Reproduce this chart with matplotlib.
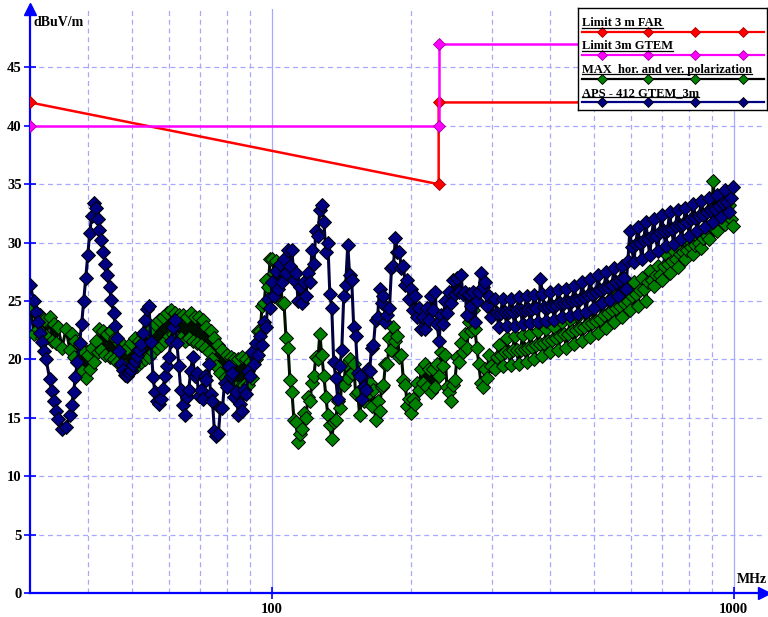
"""Radiated emission scan of the APS-412 in the GTEM cell against the 3 m limit lines."""

import numpy as np
import matplotlib

matplotlib.use("Agg")

import matplotlib.pyplot as plt
from matplotlib.ticker import FixedLocator, NullFormatter


# sweep frequencies (MHz)
FREQ_MHZ = [
    30.0, 30.6, 30.9, 31.2, 31.5, 31.8, 32.1, 32.5, 33.1, 33.4,
    33.8, 34.1, 34.5, 35.2, 35.9, 36.6, 36.9, 37.3, 37.6, 38.0,
    38.4, 38.8, 39.2, 39.6, 40.0, 40.4, 40.8, 41.2, 41.6, 42.0,
    42.4, 42.8, 43.2, 43.7, 44.1, 44.6, 45.0, 45.5, 45.9, 46.4,
    46.8, 47.3,
    47.75, 48.2, 48.7, 49.2, 49.7, 50.2, 50.7, 51.2, 51.7, 52.2,
    52.7, 53.2, 53.7, 54.3, 54.8, 55.4, 55.9, 56.5, 57.0, 57.6,
    58.2, 58.8, 59.4, 60.0, 60.6, 61.2, 61.8, 62.4, 63.0, 63.6,
    64.2, 64.9, 65.5, 66.2, 66.8, 67.5, 68.2, 68.9, 69.5, 70.2,
    70.9, 71.6, 72.3, 73.1, 73.8, 74.5, 75.2, 76.0, 76.7, 77.5,
    78.3, 79.1, 79.9, 80.7, 81.5, 82.3, 83.1, 83.9, 84.7, 85.6,
    86.4, 87.3, 88.2, 89.1, 89.9, 90.8, 91.7, 92.7, 93.6, 94.5,
    95.4, 96.4, 97.3, 98.3, 99.3,
    100.3, 101.3, 102.3, 103.3, 104.4, 105.4, 106.4, 107.5, 108.6, 109.6,
    110.7, 111.8, 113.0, 114.1, 115.2, 116.3, 117.5, 118.7, 119.9, 121.1,
    122.3, 123.5, 124.7, 126.0, 127.2, 128.4, 129.8, 131.1, 132.4, 133.7,
    135.0, 136.3, 137.7, 139.1, 140.5, 141.9, 143.3, 144.7, 146.2, 147.6,
    149.1, 150.6, 152.1, 153.6, 155.1, 156.6, 158.2, 159.8, 161.4, 163.0,
    164.6, 166.2, 167.9, 169.6, 171.3, 173.0, 174.7, 176.4, 178.2, 180.0,
    181.8, 183.6, 185.4, 187.2, 189.1, 191.0, 192.9, 194.8, 196.8, 198.7,
    200.7, 202.7, 204.7, 206.7, 208.8, 210.9, 213.0, 215.1, 217.2, 219.4,
    221.6, 223.8, 226.0, 228.2, 230.5, 232.8, 235.1, 237.4, 239.8, 242.2,
    244.6, 247.0, 249.5, 252.0, 254.5, 257.0, 259.6, 262.2, 264.8, 267.4,
    270.1, 272.8, 275.5, 278.2, 281.0, 283.8, 286.6, 289.5, 292.4, 295.3,
    298.2,
    304.2, 307.2, 310.3, 313.4, 316.5, 319.6, 322.8, 326.0, 329.3, 332.5,
    335.8, 339.2, 342.6, 346.0, 349.4, 352.9, 356.4, 359.9, 363.5, 367.1,
    370.8, 374.5, 378.2, 382.0, 385.8, 389.6, 393.5, 397.4, 401.4, 405.4,
    409.4, 413.5, 417.6, 421.7, 425.9, 430.1, 434.4, 438.7, 443.1, 447.5,
    452.0, 456.5, 461.0, 465.6, 470.3, 475.0, 479.7, 484.4, 489.2, 494.1,
    499.0, 504.0, 509.0, 514.1, 519.2, 524.4, 529.6, 534.9, 540.2, 545.6,
    551.0, 556.5, 562.0, 567.6, 573.2, 578.9, 584.7, 590.5, 596.4, 602.3,
    608.3, 614.4, 620.5, 626.7, 632.9, 639.2, 645.6, 652.0, 658.5, 665.0,
    671.6, 678.3, 685.1, 691.9, 698.8, 705.8, 712.8, 719.9, 727.0, 734.3,
    741.6, 749.0, 756.4, 764.0, 771.5, 779.2, 787.0, 794.8, 802.7, 810.7,
    818.8, 826.9, 835.1, 843.4, 851.8, 860.3, 868.9, 877.6, 886.3, 895.1,
    904.0, 913.0, 922.1, 931.3, 940.5, 949.9, 959.3, 968.9, 978.5, 988.3,
    998.1,
]

# APS - 412 GTEM_3m (dBuV/m)
APS_DB = [
    26.4, 25.0, 24.1, 23.2, 22.3, 21.5, 20.7, 20.0, 18.3, 17.3,
    16.4, 15.6, 14.9, 14.0, 14.2, 15.2, 16.1, 17.2, 18.5, 19.8,
    21.4, 23.0, 25.0, 27.0, 28.9, 30.8, 32.3, 33.4, 33.0, 32.0,
    31.1, 30.2, 29.2, 28.2, 27.2, 26.2, 25.1, 24.0, 22.9, 21.8,
    20.7, 19.6,
    19.1, 18.7, 18.6, 18.8, 19.1, 19.5, 19.9, 20.3, 20.8, 21.3,
    22.3, 23.4, 24.3, 24.6, 21.5, 18.5, 17.2, 16.4, 16.2, 16.6,
    17.5, 18.6, 19.4, 20.2, 21.6, 22.8, 23.4, 21.4, 19.4, 17.4,
    16.1, 15.2, 16.8, 17.4, 19.0, 20.2, 18.6, 18.8, 16.9, 17.4,
    16.6, 18.6, 18.2, 19.6, 17.0, 16.4, 13.9, 13.4, 13.6, 15.8,
    15.8, 18.0, 17.6, 19.4, 18.6, 18.8, 16.8, 17.2, 15.2, 16.2,
    15.6, 17.4, 17.0, 19.0, 18.6, 20.6, 19.6, 21.4, 20.4, 22.0,
    21.2, 23.2, 22.8, 25.2, 24.4,
    26.6, 25.4, 27.6, 26.0, 28.2, 26.6, 28.6, 27.4, 29.4, 28.0,
    29.4, 26.8, 27.4, 25.0, 26.2, 24.8, 26.6, 25.4, 27.4, 26.6,
    29.4, 28.2, 31.0, 30.6, 32.8, 33.2, 31.8, 29.2, 30.0, 25.6,
    24.4, 19.8, 18.4, 16.6, 19.4, 20.8, 25.4, 26.4, 29.8, 27.2,
    26.8, 22.8, 22.0, 18.8, 18.6, 16.6, 17.6, 17.4, 19.2, 19.0,
    21.0, 21.2, 23.4, 23.6, 26.0, 24.8, 25.4, 23.2, 23.8, 24.4,
    27.8, 28.0, 30.4, 29.2, 29.2, 27.8, 28.0, 26.4, 26.8, 25.2,
    26.0, 24.2, 25.4, 23.6, 24.4, 22.6, 23.6, 22.6, 24.4, 23.4,
    25.4, 24.2, 25.8, 23.0, 21.6, 23.8, 23.0, 25.0, 24.0, 25.8,
    24.8, 26.8, 25.6, 27.0, 25.8, 27.2, 25.6, 25.8, 23.8, 25.6,
    24.6, 25.8, 23.2, 25.0, 25.8, 27.4, 26.2, 26.6, 24.6, 25.4,
    23.6,
    25.2, 24.0, 22.8, 24.0, 25.2, 24.1, 22.9, 24.1, 25.2, 24.1,
    22.9, 24.2, 25.3, 24.2, 23.0, 24.2, 25.4, 24.3, 23.1, 24.3,
    25.5, 24.4, 23.2, 26.9, 25.6, 24.5, 23.3, 24.5, 25.8, 24.6,
    23.4, 24.7, 25.9, 24.8, 23.6, 24.8, 26.0, 24.9, 23.7, 25.0,
    26.3, 25.1, 23.9, 25.2, 26.6, 25.3, 24.1, 25.5, 26.9, 25.6,
    24.4, 25.8, 27.2, 25.9, 24.8, 26.1, 27.5, 26.2, 25.1, 26.4,
    27.8, 26.6, 25.4, 26.8, 28.0, 27.0, 26.0, 28.4, 31.0, 29.6,
    28.3, 29.9, 31.3, 30.0, 28.6, 30.2, 31.8, 30.3, 28.9, 30.6,
    32.0, 30.6, 29.3, 30.9, 32.4, 31.0, 29.7, 31.1, 32.6, 31.2,
    29.9, 31.4, 32.8, 31.5, 30.3, 31.6, 33.0, 31.8, 30.6, 32.0,
    33.3, 32.1, 31.0, 32.3, 33.6, 32.4, 31.3, 32.6, 33.8, 32.8,
    31.8, 32.9, 34.1, 33.1, 32.2, 33.4, 34.5, 33.5, 32.6, 33.8,
    34.8,
]

# MAX hor. and ver. polarization (dBuV/m)
MAX_DB = [
    24.6, 22.2, 24.0, 22.6, 23.8, 21.8, 23.4, 22.0, 23.6, 21.6,
    23.0, 21.4, 22.8, 21.0, 22.6, 20.8, 22.2, 20.2, 21.6, 19.8,
    21.2, 19.0, 20.6, 18.4, 20.4, 19.2, 21.0, 19.8, 21.6, 20.6,
    22.6, 20.8, 22.4, 20.4, 22.2, 20.2, 22.4, 20.0, 21.8, 19.8,
    21.4, 19.6,
    21.2, 19.4, 21.0, 19.4, 21.4, 19.6, 21.8, 19.4, 21.6, 19.8,
    22.2, 20.0, 22.4, 20.2, 22.6, 20.6, 23.0, 21.0, 23.4, 21.2,
    23.6, 21.6, 24.0, 22.0, 24.2, 22.2, 24.0, 21.8, 23.8, 21.8,
    23.8, 21.6, 23.6, 21.8, 24.0, 21.6, 23.6, 21.4, 23.6, 21.2,
    23.4, 21.0, 22.8, 20.6, 22.4, 20.0, 21.8, 19.4, 21.2, 18.8,
    20.8, 18.4, 20.4, 18.0, 20.2, 17.8, 20.0, 17.6, 20.0, 17.6,
    20.2, 17.8, 20.0, 17.8, 19.8, 18.4, 20.4, 20.0, 22.4, 22.4,
    24.6, 24.8, 26.8, 26.2, 28.6,
    28.6, 27.4, 28.4, 26.6, 27.6, 24.8, 24.8, 21.8, 21.0, 18.2,
    17.2, 14.8, 14.6, 12.9, 13.6, 14.0, 15.4, 15.0, 16.8, 16.4,
    18.0, 18.6, 20.2, 20.0, 22.2, 20.4, 18.6, 16.8, 15.2, 14.4,
    13.2, 14.6, 14.8, 16.4, 15.8, 18.0, 17.8, 19.6, 18.4, 20.0,
    18.8, 19.6, 17.0, 17.2, 15.2, 16.6, 16.4, 18.4, 17.0, 18.0,
    16.0, 17.4, 14.8, 16.4, 15.6, 17.6, 17.8, 19.6, 19.6, 21.8,
    20.8, 22.8, 21.6, 22.0, 20.2, 20.4, 18.2, 17.8, 16.0, 16.6,
    15.4, 16.6, 16.2, 18.0, 17.4, 19.2, 18.0, 19.6, 17.6, 19.2,
    17.2, 19.2, 17.6, 19.6, 18.6, 20.6, 19.4, 20.4, 17.6, 17.2,
    16.4, 17.8, 18.2, 20.2, 19.8, 21.4, 20.6, 22.2, 21.0, 23.2,
    22.4, 24.2, 22.6, 21.0, 19.6, 18.0, 17.6, 19.2, 18.4, 20.4,
    19.4,
    19.2, 20.2, 21.2, 20.4, 19.4, 20.6, 21.8, 20.6, 19.5, 20.8,
    22.0, 20.8, 19.6, 20.8, 22.1, 20.9, 19.8, 21.0, 22.2, 21.1,
    20.0, 21.2, 22.4, 21.3, 20.3, 21.4, 22.6, 21.6, 20.6, 21.7,
    22.8, 21.8, 20.8, 22.0, 23.2, 22.2, 21.0, 22.2, 23.4, 22.4,
    21.3, 22.5, 23.7, 22.7, 21.6, 22.8, 24.0, 23.0, 21.9, 23.1,
    24.4, 23.3, 22.3, 23.5, 24.9, 23.8, 22.7, 24.0, 25.2, 24.2,
    23.2, 24.4, 25.6, 24.6, 23.6, 24.8, 26.0, 25.0, 24.2, 25.4,
    26.6, 25.6, 24.6, 25.9, 27.0, 26.0, 25.0, 26.6, 27.6, 26.8,
    26.3, 27.2, 28.0, 27.2, 26.8, 28.0, 29.0, 28.2, 27.4, 28.4,
    29.3, 28.6, 27.9, 29.0, 29.8, 29.2, 28.6, 29.4, 30.2, 29.6,
    29.0, 29.8, 30.6, 30.0, 29.5, 30.4, 31.1, 30.6, 30.3, 31.4,
    35.3, 31.8, 31.0, 32.4, 33.4, 32.4, 31.6, 32.6, 33.2, 32.0,
    31.4,
]

# limit lines
FAR_LIMIT_F = [30, 230, 230, 1000]
FAR_LIMIT_DB = [42, 35, 42, 42]
GTEM_LIMIT_F = [30, 230, 230, 1000]
GTEM_LIMIT_DB = [40, 40, 47, 47]

LEGEND_LABELS = [
    "Limit 3 m FAR",
    "Limit 3m GTEM",
    "MAX  hor. and ver. polarization",
    "APS - 412 GTEM_3m",
]

Y_TICKS = [0, 5, 10, 15, 20, 25, 30, 35, 40, 45]
X_MAJOR = [100, 1000]
X_MINOR = [40, 50, 60, 70, 80, 90, 200, 300, 400, 500, 600, 700, 800, 900]

AXIS_BLUE = "#0000FF"
GRID_BLUE = "#A8A8FF"
RED = "#FF0000"
MAGENTA = "#FF00FF"
GREEN = "#008000"
NAVY = "#000080"

W, H = 768, 617

plt.rcParams["font.family"] = ["Liberation Serif", "DejaVu Serif"]
plt.rcParams["font.weight"] = "bold"

assert len(FREQ_MHZ) == len(APS_DB) == len(MAX_DB), (len(FREQ_MHZ), len(APS_DB), len(MAX_DB))


def series_styles():
    return [
        dict(color=RED, lw=1.8, marker="D", ms=6, mfc=RED, mec="#A00000", mew=0.6),
        dict(color=MAGENTA, lw=1.8, marker="D", ms=6, mfc=MAGENTA, mec="#A000A0", mew=0.6),
        dict(color="#001000", lw=2.2, marker="D", ms=7.5, mfc=GREEN, mec="black", mew=0.7),
        dict(color="#000040", lw=2.2, marker="D", ms=7.5, mfc=NAVY, mec="black", mew=0.7),
    ]


fig = plt.figure(figsize=(W / 100, H / 100), dpi=100, facecolor="white")
ax = fig.add_axes([30 / W, 24 / H, 734 / W, 584 / H])
ax.set_xscale("log")
ax.set_xlim(30, 1164)
ax.set_ylim(0, 50)

styles = series_styles()
ax.plot(FREQ_MHZ, MAX_DB, zorder=3, **styles[2])
ax.plot(FREQ_MHZ, APS_DB, zorder=4, **styles[3])
ax.plot(FAR_LIMIT_F, FAR_LIMIT_DB, zorder=5, **styles[0])
ax.plot(GTEM_LIMIT_F, GTEM_LIMIT_DB, zorder=5, **styles[1])

# grid: dashed everywhere except the decade lines
ax.xaxis.set_major_locator(FixedLocator(X_MAJOR))
ax.xaxis.set_minor_locator(FixedLocator(X_MINOR))
ax.xaxis.set_minor_formatter(NullFormatter())
ax.set_xticklabels([str(v) for v in X_MAJOR])
ax.set_yticks(Y_TICKS)
ax.grid(axis="x", which="major", color=GRID_BLUE, lw=0.9, ls="-", zorder=0)
ax.grid(axis="x", which="minor", color=GRID_BLUE, lw=0.9, ls=(0, (4, 3)), zorder=0)
ax.grid(axis="y", which="major", color=GRID_BLUE, lw=0.9, ls=(0, (4, 3)), zorder=0)
ax.set_axisbelow(True)

for side in ("top", "right"):
    ax.spines[side].set_visible(False)
for side in ("left", "bottom"):
    ax.spines[side].set_color(AXIS_BLUE)
    ax.spines[side].set_linewidth(1.6)

ax.tick_params(axis="both", which="major", direction="inout", length=9, width=1.2,
               color=AXIS_BLUE, labelsize=10.5, labelcolor="black")
ax.tick_params(axis="y", pad=1.5)
ax.tick_params(axis="x", pad=3)
ax.tick_params(axis="x", which="minor", length=0)
for lab in ax.get_xticklabels() + ax.get_yticklabels():
    lab.set_fontweight("bold")

# axis arrows
ax.plot([0], [1], marker="^", ms=8, color=AXIS_BLUE, transform=ax.transAxes, clip_on=False, zorder=6)
ax.plot([1], [0], marker=">", ms=8, color=AXIS_BLUE, transform=ax.transAxes, clip_on=False, zorder=6)

fig.text(33 / W, 1 - 26 / H, "dBuV/m", ha="left", va="baseline", fontsize=10, fontweight="bold")
fig.text(767 / W, 1 - 583 / H, "MHz", ha="right", va="baseline", fontsize=10, fontweight="bold")

# legend box, laid out in pixel units
lax = fig.add_axes([578 / W, 1 - 110 / H, 189 / W, 102 / H], zorder=10)
lax.set_xlim(0, 189)
lax.set_ylim(102, 0)
lax.set_xticks([])
lax.set_yticks([])
lax.set_facecolor("white")
for sp in lax.spines.values():
    sp.set_color("black")
    sp.set_linewidth(1.0)

legend_line_colors = [RED, MAGENTA, "black", NAVY]
marker_x = [24, 70, 117, 165]
texts = []
for i, (label, st, lc) in enumerate(zip(LEGEND_LABELS, styles, legend_line_colors)):
    base = 18 + 23.3 * i
    t = lax.text(4, base, label, ha="left", va="baseline", fontsize=9, fontweight="bold")
    texts.append((t, base))
    lax.plot([4, 186], [base + 6, base + 6], color=lc, lw=1.6)
    lax.plot(marker_x, [base + 6] * len(marker_x), ls="none", marker="D", ms=5.5,
             mfc=st["mfc"], mec=st["mec"], mew=0.6)

fig.canvas.draw()
renderer = fig.canvas.get_renderer()
inv = lax.transData.inverted()
for t, base in texts:
    bb = t.get_window_extent(renderer)
    (x0, _), (x1, _) = inv.transform([[bb.x0, bb.y0], [bb.x1, bb.y1]])
    lax.plot([x0, x1], [base + 1.5, base + 1.5], color="black", lw=0.9)

fig.savefig("out.png", dpi=100, facecolor="white")
